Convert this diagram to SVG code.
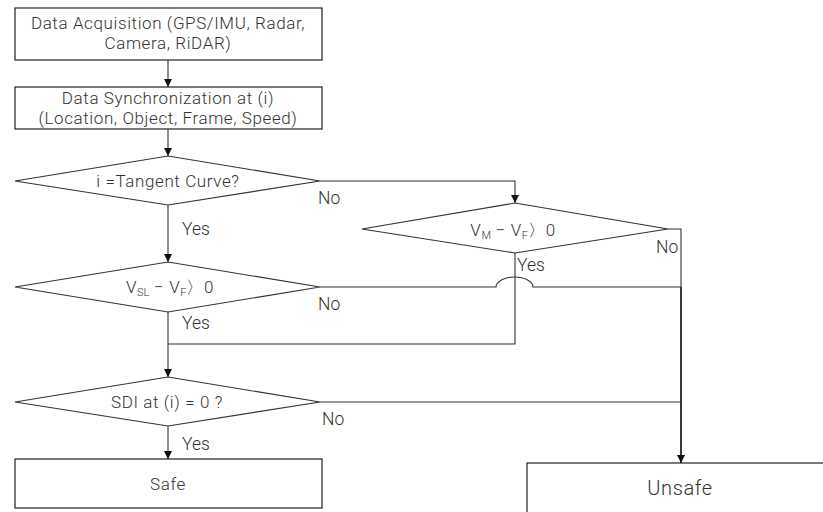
<svg xmlns="http://www.w3.org/2000/svg" width="823" height="512" viewBox="0 0 823 512">
<defs>
<style>
.box{fill:#fff;stroke:#222;stroke-width:1.2}
.dia{fill:#fff;stroke:#333;stroke-width:1.1}
.t{font-family:Roboto,"Noto Sans",sans-serif;font-size:17px;font-weight:300;letter-spacing:0.6px;fill:#333;text-anchor:middle}
.lab{font-family:Roboto,"Noto Sans",sans-serif;font-size:17.5px;font-weight:300;fill:#333}
.sub{font-size:11px;letter-spacing:0}
.c{fill:none;stroke:#333;stroke-width:1.1}
.cb{fill:none;stroke:#222;stroke-width:1.8}
</style>
<marker id="ah" viewBox="0 0 10 10" refX="10" refY="5" markerWidth="8" markerHeight="8" markerUnits="userSpaceOnUse" orient="auto">
<path d="M0,0 L10,5 L0,10 z" fill="#111"/>
</marker>
</defs>
<rect width="823" height="512" fill="#fff"/>

<g id="connectors">
<line class="c" x1="168" y1="60" x2="168" y2="87" marker-end="url(#ah)"/>
<line class="c" x1="168" y1="129" x2="168" y2="156" marker-end="url(#ah)"/>
<line class="c" x1="168" y1="205" x2="168" y2="262" marker-end="url(#ah)"/>
<polyline class="c" points="320,181 515,181 515,203" marker-end="url(#ah)"/>
<line class="c" x1="168" y1="312" x2="168" y2="377" marker-end="url(#ah)"/>
<line class="c" x1="168" y1="426" x2="168" y2="459" marker-end="url(#ah)"/>
<polyline class="c" points="515,253 515,344 168,344"/>
<path class="c" d="M320,287 H496 A18.5,10 0 0 1 533,287 H681"/>
<polyline class="c" points="668,229 681,229 681,287"/>
<line class="c" x1="320" y1="402" x2="681" y2="402"/>
<line class="cb" x1="681" y1="287" x2="681" y2="463" marker-end="url(#ah)"/>
</g>

<g id="acq">
<rect class="box" x="15" y="8" width="307" height="52"/>
<text class="t" x="168" y="28.5">Data Acquisition (GPS/IMU, Radar,</text>
<text class="t" x="168" y="48.5">Camera, RiDAR)</text>
</g>

<g id="sync">
<rect class="box" x="15" y="87" width="307" height="42"/>
<text class="t" x="168" y="104">Data Synchronization at (i)</text>
<text class="t" x="168" y="124">(Location, Object, Frame, Speed)</text>
</g>

<g id="tangent">
<polygon class="dia" points="168,156 320,181 168,205 15,181"/>
<text class="t" x="168" y="187">i =Tangent Curve?</text>
</g>

<g id="vm">
<polygon class="dia" points="515,203 668,229 515,253 362,229"/>
<text class="t" x="513" y="236">V<tspan class="sub" dy="3">M</tspan><tspan dy="-3"> − V</tspan><tspan class="sub" dy="3">F</tspan><tspan dy="-3">〉0</tspan></text>
</g>

<g id="vsl">
<polygon class="dia" points="168,262 320,287 168,312 15,287"/>
<text class="t" x="170" y="293">V<tspan class="sub" dy="3">SL</tspan><tspan dy="-3"> − V</tspan><tspan class="sub" dy="3">F</tspan><tspan dy="-3">〉0</tspan></text>
</g>

<g id="sdi">
<polygon class="dia" points="168,377 320,402 168,426 15,402"/>
<text class="t" x="167" y="408">SDI at (i) = 0 ?</text>
</g>

<g id="safe">
<rect class="box" x="15" y="459" width="307" height="49"/>
<text class="t" x="168" y="490">Safe</text>
</g>

<g id="unsafe">
<rect class="box" x="527" y="463" width="320" height="60"/>
<text class="t" x="680" y="495" style="font-size:20px">Unsafe</text>
</g>

<g id="labels">
<text class="lab" x="318" y="204">No</text>
<text class="lab" x="182" y="235">Yes</text>
<text class="lab" x="656" y="253">No</text>
<text class="lab" x="517" y="271">Yes</text>
<text class="lab" x="318" y="310">No</text>
<text class="lab" x="182" y="329">Yes</text>
<text class="lab" x="322" y="425">No</text>
<text class="lab" x="182" y="450">Yes</text>
</g>
</svg>
